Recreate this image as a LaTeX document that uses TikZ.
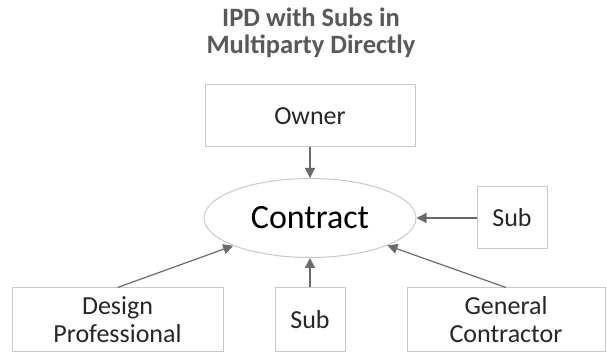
\documentclass[tikz,border=0pt]{standalone}
\usepackage{fontspec}
\setmainfont{Carlito}
\usepackage{xcolor}
\usetikzlibrary{shapes.geometric, arrows.meta, calc}

\definecolor{boxline}{HTML}{C8C8C8}
\definecolor{arrowgray}{HTML}{6A6A6A}
\definecolor{titlegray}{HTML}{595959}
\definecolor{textgray}{HTML}{262626}

\tikzset{
    party/.style={draw=boxline, line width=1pt, inner sep=0pt, align=center,
        text=textgray, font=\fontsize{26}{28}\selectfont},
    link/.style={draw=arrowgray, line width=1.2pt, -{Triangle[width=10pt,length=10pt]}}
}

\begin{document}
\begin{tikzpicture}[x=1pt, y=-1pt]
        \useasboundingbox (0,0) rectangle (607,352);
        \node[align=center, text=titlegray, font=\bfseries\fontsize{26.5}{27}\selectfont] (title) at (311,33) {IPD with Subs in\\Multiparty Directly};
        \node[party, minimum width=210pt, minimum height=62pt] (owner) at (310,116) {Owner};
        \node[ellipse, draw=boxline, line width=1pt, minimum width=212pt, minimum height=79pt,
            inner sep=0pt, font=\fontsize{34}{36}\selectfont] (contract) at (310,218) {Contract};
        \node[party, minimum width=70pt, minimum height=62pt] (subright) at (512,218) {Sub};
        \node[party, minimum width=211pt, minimum height=63pt] (design) at (117.5,319.5) {Design\\Professional};
        \node[party, minimum width=70pt, minimum height=63pt] (subbottom) at (310,319.5) {Sub};
        \node[party, minimum width=198pt, minimum height=63pt] (general) at (506,319.5) {General\\Contractor};
        \draw[link] (owner.south) -- (contract.north);
        \draw[link] (subright.west) -- (contract.east);
        \draw[link] (subbottom.north) -- (contract.south);
        \draw[link] (design.north) -- (contract);
        \draw[link] (general.north) -- (contract);
    \end{tikzpicture}
\end{document}
